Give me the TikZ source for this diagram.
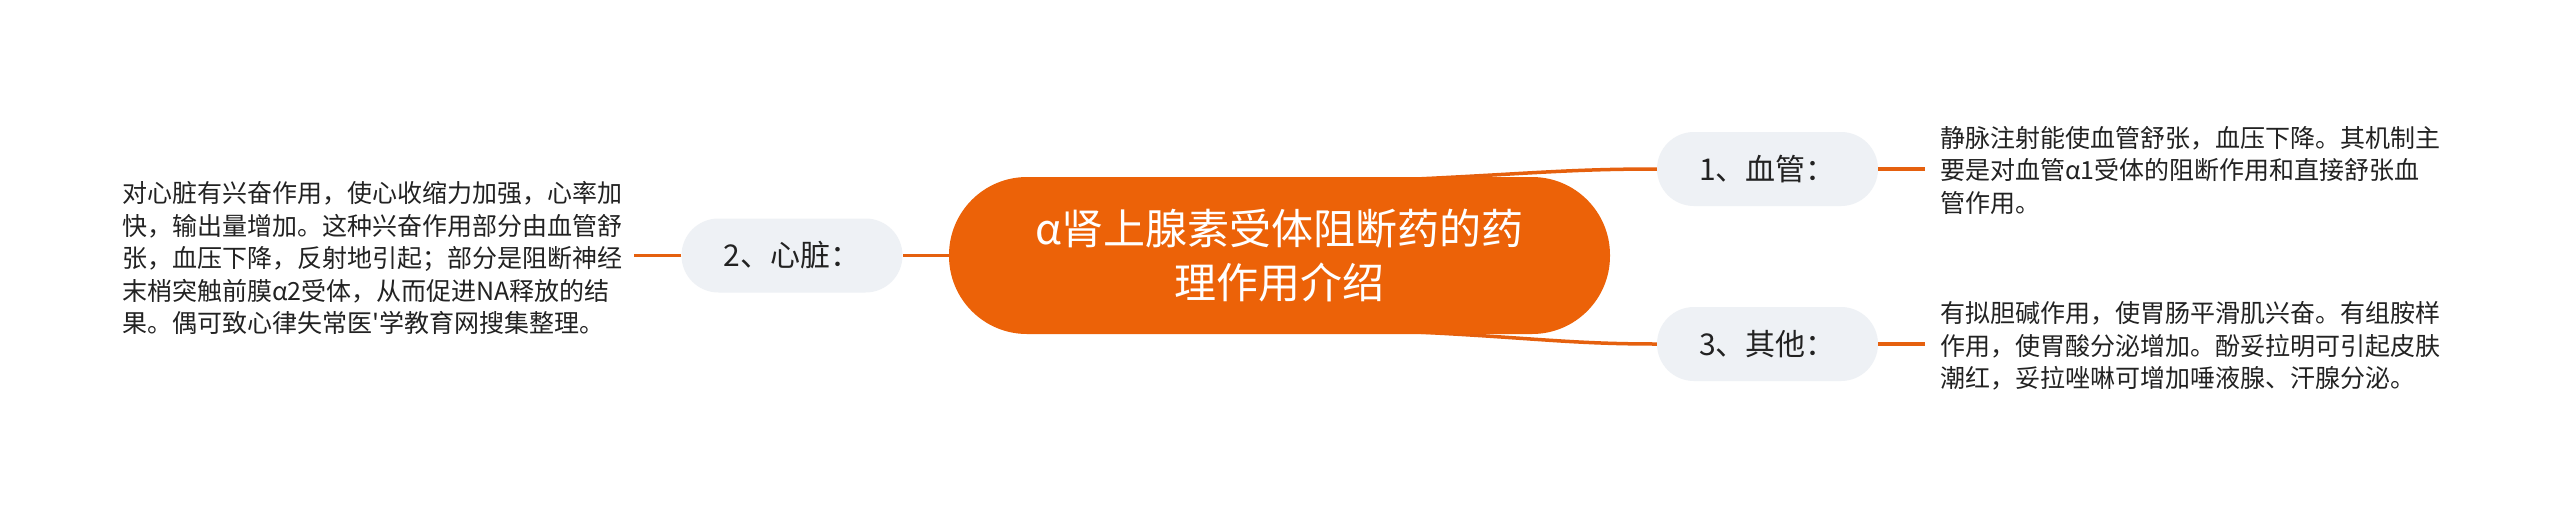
\documentclass[tikz,border=0pt]{standalone}
\usepackage{fontspec}
\newfontfamily\cjk{Noto Sans CJK SC}
\usetikzlibrary{calc}
\definecolor{orangeMain}{RGB}{236,98,8}
\definecolor{orangeLine}{RGB}{229,96,14}
\definecolor{topicFill}{RGB}{238,241,245}
\definecolor{txt}{RGB}{34,34,34}
\pgfdeclarelayer{bg}
\pgfdeclarelayer{paper}
\pgfsetlayers{paper,bg,main}
\begin{document}
\begin{tikzpicture}[x=1pt,y=-1pt,
  root/.style={fill=orangeMain, text=white, rounded corners=78pt, minimum width=661pt, minimum height=157pt, inner sep=0pt, align=center, font=\cjk\fontsize{42}{54}\selectfont},
  topic/.style={fill=topicFill, text=txt, rounded corners=37pt, minimum width=221pt, minimum height=74pt, inner sep=0pt, font=\cjk\fontsize{30}{36}\selectfont},
  desc/.style={text=txt, inner sep=0pt, align=left, anchor=west, font=\cjk\fontsize{25}{32.5}\selectfont},
  link/.style={draw=orangeLine, line width=3.5pt}
]
\useasboundingbox (0,0) rectangle (2560,512);
\begin{pgfonlayer}{paper}
\fill[white] (0,0) rectangle (2560,512);
\end{pgfonlayer}

\node[root] (root) at (1279.5,255.5) {α肾上腺素受体阻断药的药\\理作用介绍};
\node[topic] (n1) at (1767.5,169) {1、血管：};
\node[topic] (n2) at (792,255.5) {2、心脏：};
\node[topic] (n3) at (1767.5,344) {3、其他：};

\node[desc] (t1) at (1940,170) {静脉注射能使血管舒张，血压下降。其机制主\\要是对血管α1受体的阻断作用和直接舒张血\\管作用。};
\node[desc] (t2) at (122,258) {对心脏有兴奋作用，使心收缩力加强，心率加\\快，输出量增加。这种兴奋作用部分由血管舒\\张，血压下降，反射地引起；部分是阻断神经\\末梢突触前膜α2受体，从而促进NA释放的结\\果。偶可致心律失常医'学教育网搜集整理。};
\node[desc] (t3) at (1940,346) {有拟胆碱作用，使胃肠平滑肌兴奋。有组胺样\\作用，使胃酸分泌增加。酚妥拉明可引起皮肤\\潮红，妥拉唑啉可增加唾液腺、汗腺分泌。};

\begin{pgfonlayer}{bg}
\draw[link] ($(root.north)+(120,3)$) .. controls ($(root.north)+(250,-3)$) and ($(n1.west)+(-90,0)$) .. (n1.west);
\draw[link] ($(root.south)+(120,-3)$) .. controls ($(root.south)+(250,3)$) and ($(n3.west)+(-90,0)$) .. (n3.west);
\end{pgfonlayer}
\draw[link] (root.west) -- (n2.east);
\draw[link, shorten >=12pt] (n2.west) -- (n2.west -| t2.east);
\draw[link, shorten >=15pt] (n1.east) -- (n1.east -| t1.west);
\draw[link, shorten >=15pt] (n3.east) -- (n3.east -| t3.west);
\end{tikzpicture}
\end{document}
